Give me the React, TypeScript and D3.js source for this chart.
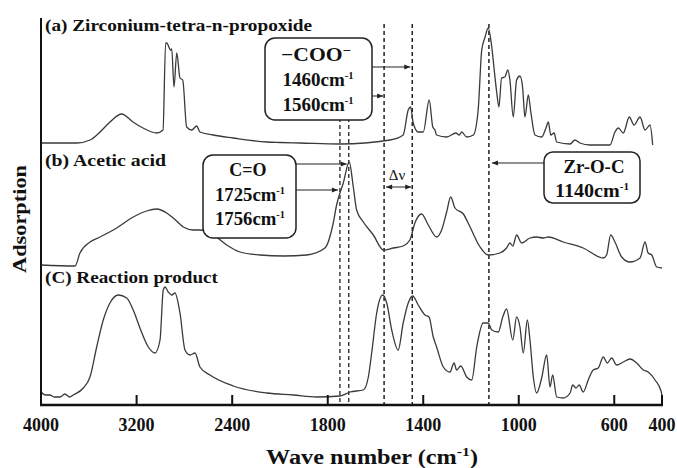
import * as d3 from "d3";

// Wavenumber ticks (cm-1)
const tickValues = [4000, 3200, 2400, 1800, 1400, 1000, 600, 400];

// Spectra: [wavenumber, absorbance above own baseline (arb. units)]
const traceA: [number, number][] = [
  [4000, 0], [3699, 0], [3590, 3], [3506, 11], [3423, 21], [3325, 29], [3230, 21], [3146, 15],
  [3032, 10], [2979, 13], [2957, 100], [2948, 100], [2915, 93], [2906, 94], [2887, 56], [2864, 90],
  [2837, 65], [2814, 63], [2781, 16], [2739, 13], [2697, 17], [2670, 11], [2561, 8], [2393, 5],
  [2111, 1], [2000, 0.5], [1916, 0], [1749, -1], [1539, 3], [1484, 8], [1463, 33], [1453, 36],
  [1442, 20], [1421, 11], [1400, 11], [1375, 43], [1360, 16], [1351, 13], [1344, 8], [1302, 6],
  [1263, 10], [1249, 8], [1239, 11], [1218, 6], [1190, 8], [1170, 33], [1155, 93], [1141, 106],
  [1128, 115], [1113, 96], [1104, 76], [1092, 50], [1083, 36], [1072, 65], [1058, 66], [1046, 73],
  [1037, 63], [1023, 26], [1009, 63], [995, 67], [984, 56], [974, 26], [960, 48], [949, 30],
  [932, 8], [904, 6], [886, 15], [876, 21], [866, 8], [852, 10], [841, 1], [785, -1], [765, 3],
  [744, 0], [702, -2], [618, -2], [597, 11], [583, 15], [562, 10], [537, 26], [517, 18], [492, 26],
  [471, 13], [450, 18], [439, -2],
];

const traceB: [number, number][] = [
  [4000, 0], [3715, -1], [3674, 12], [3590, 23], [3506, 28], [3367, 37], [3228, 48], [3116, 54],
  [3032, 56], [2948, 52], [2893, 47], [2809, 38], [2726, 35], [2670, 35], [2558, 30], [2446, 20],
  [2335, 13], [2167, 10], [1986, 9], [1888, 10], [1812, 17], [1777, 42], [1763, 60], [1735, 82],
  [1710, 103], [1693, 78], [1679, 55], [1651, 43], [1609, 30], [1567, 15], [1525, 17], [1484, 19],
  [1456, 25], [1435, 42], [1407, 51], [1379, 40], [1344, 28], [1323, 35], [1302, 53], [1285, 68],
  [1267, 57], [1232, 51], [1204, 38], [1162, 18], [1128, 10], [1079, 12], [1051, 17], [1037, 22],
  [1025, 19], [1009, 30], [988, 22], [953, 27], [925, 28], [897, 27], [876, 28], [814, 23],
  [730, 17], [646, 7], [632, 10], [615, 30], [597, 23], [569, 8], [534, 3], [492, 7], [471, 23],
  [458, 12], [443, 10], [422, -2], [400, -3],
];

const traceC: [number, number][] = [
  [4000, 3], [3960, 0], [3925, 0], [3890, -2], [3841, -2], [3800, 1], [3760, -2], [3730, 0],
  [3646, 7], [3590, 18], [3534, 48], [3479, 75], [3423, 92], [3353, 100], [3283, 97], [3228, 85],
  [3172, 67], [3102, 48], [3046, 42], [3004, 55], [2977, 105], [2962, 108], [2935, 103], [2906, 100],
  [2879, 102], [2837, 82], [2795, 45], [2753, 40], [2711, 42], [2670, 28], [2586, 20], [2391, 9],
  [2111, 2], [1944, 0], [1846, -2], [1749, -1], [1707, 3], [1651, 5], [1630, 18], [1616, 42],
  [1595, 82], [1570, 100], [1553, 92], [1532, 65], [1505, 45], [1484, 72], [1463, 92], [1444, 99],
  [1421, 90], [1393, 80], [1376, 78], [1358, 58], [1344, 48], [1316, 28], [1288, 23], [1271, 32],
  [1260, 25], [1243, 29], [1218, 18], [1197, 15], [1176, 48], [1149, 72], [1128, 72], [1113, 65],
  [1086, 63], [1067, 78], [1051, 86], [1025, 55], [1009, 78], [995, 68], [981, 42], [964, 75],
  [953, 55], [939, 18], [925, 2], [904, 17], [883, 40], [869, 8], [858, 20], [841, -2], [814, -3],
  [785, 2], [774, 10], [760, 7], [747, 10], [730, 3], [709, 15], [688, 25], [667, 27], [646, 38],
  [629, 32], [611, 37], [590, 30], [562, 33], [534, 36], [506, 32], [478, 25], [458, 23], [429, 15],
  [404, 4], [400, -1],
];

// Baseline of each trace (arb. units above the axis)
const traceOffsets = [262, 140, 10];
const traceNames = ["(a) Zirconium-tetra-n-propoxide", "(b) Acetic acid", "(C) Reaction product"];

// Dashed marker lines as drawn in the figure (cm-1)
const longMarkers = [1564, 1446, 1125];
const shortMarkers = [1749, 1712];

const FONT = "'Liberation Serif', 'Times New Roman', serif";

const x = d3.scaleLinear().domain([4000, 2000, 400]).range([41, 280, 662]);
const y = d3.scaleLinear().domain([0, 387]).range([405, 18]);

function Arrow({ x1, x2, yy, both = false }: { x1: number; x2: number; yy: number; both?: boolean }) {
  const dir = x2 > x1 ? 1 : -1;
  const head = (tx: number, d: number) =>
    `M${tx},${yy} L${tx - d * 6},${yy - 2.5} L${tx - d * 6},${yy + 2.5} Z`;
  return (
    <g>
      <line x1={x1} x2={x2} y1={yy} y2={yy} stroke="#222" strokeWidth={1} />
      <path d={head(x2, dir)} fill="#222" />
      {both && <path d={head(x1, -dir)} fill="#222" />}
    </g>
  );
}

function Wn({ cx, by, v, len }: { cx: number; by: number; v: string; len: number }) {
  return (
    <text x={cx} y={by} textAnchor="middle" fontSize={18} fontWeight="bold" fontFamily={FONT} fill="#111" textLength={len} lengthAdjust="spacingAndGlyphs">
      {v}cm
      <tspan fontSize={10} dy={-7}>-1</tspan>
    </text>
  );
}

export default function App() {
  const traces = [traceA, traceB, traceC];
  const lines = traces.map((t, i) =>
    d3
      .line<[number, number]>()
      .x((d) => x(d[0]))
      .y((d) => y(traceOffsets[i] + d[1]))
      .curve(d3.curveMonotoneX)(t)
  );

  const labelPos = [
    { by: 31, len: 267 },
    { by: 166, len: 121 },
    { by: 283, len: 173 },
  ];

  return (
    <svg
      width={677}
      height={468}
      style={{ position: "absolute", left: 0, top: 0, background: "#fff" }}
    >
      {/* dashed markers */}
      {longMarkers.map((w) => (
        <line key={w} x1={x(w)} x2={x(w)} y1={24} y2={405} stroke="#222" strokeWidth={1.5} strokeDasharray="4,3" />
      ))}
      {shortMarkers.map((w) => (
        <line key={w} x1={x(w)} x2={x(w)} y1={118} y2={405} stroke="#222" strokeWidth={1.3} strokeDasharray="4,3" />
      ))}

      {/* spectra */}
      {lines.map((d, i) => (
        <path key={i} d={d ?? ""} fill="none" stroke="#3a3a3a" strokeWidth={1.3} strokeLinejoin="round" />
      ))}

      {/* axes */}
      <line x1={41} x2={41} y1={18} y2={406} stroke="#111" strokeWidth={2} />
      <line x1={40} x2={663} y1={405} y2={405} stroke="#111" strokeWidth={2.5} />
      {tickValues.map((t) => (
        <g key={t}>
          {t !== 4000 && <line x1={x(t)} x2={x(t)} y1={405} y2={395} stroke="#111" strokeWidth={2} />}
          <text x={x(t)} y={431} textAnchor="middle" fontSize={18} fontWeight="bold" fontFamily={FONT} fill="#111">
            {t}
          </text>
        </g>
      ))}
      <text x={372} y={464} textAnchor="middle" fontSize={20} fontWeight="bold" fontFamily={FONT} fill="#111" textLength={212} lengthAdjust="spacingAndGlyphs">
        Wave number (cm
        <tspan fontSize={13} dy={-8}>-1</tspan>
        <tspan dy={8}>)</tspan>
      </text>
      <text
        transform="translate(26,219) rotate(-90)"
        textAnchor="middle"
        fontSize={19}
        fontWeight="bold"
        fontFamily={FONT}
        fill="#111"
        textLength={108}
        lengthAdjust="spacingAndGlyphs"
      >
        Adsorption
      </text>

      {/* trace labels */}
      {traceNames.map((n, i) => (
        <text key={n} x={45} y={labelPos[i].by} fontSize={17} fontWeight="bold" fontFamily={FONT} fill="#111" textLength={labelPos[i].len} lengthAdjust="spacingAndGlyphs">
          {n}
        </text>
      ))}

      {/* -COO- box */}
      <rect x={265} y={38} width={107} height={82} rx={10} fill="#fff" stroke="#222" strokeWidth={1.5} />
      <text x={316} y={61} textAnchor="middle" fontSize={19} fontWeight="bold" fontFamily={FONT} fill="#111" textLength={70} lengthAdjust="spacingAndGlyphs">
        −COO
        <tspan fontSize={13} dy={-6}>−</tspan>
      </text>
      <Wn cx={318} by={86} v="1460" len={71} />
      <Wn cx={318} by={111} v="1560" len={71} />
      <Arrow x1={372} x2={x(1446) - 2} yy={67} />
      <Arrow x1={372} x2={x(1564) - 1} yy={96} />

      {/* C=O box */}
      <rect x={203} y={155} width={93} height={83} rx={10} fill="#fff" stroke="#222" strokeWidth={1.5} />
      <text x={248} y={176} textAnchor="middle" fontSize={18} fontWeight="bold" fontFamily={FONT} fill="#111">
        C=O
      </text>
      <Wn cx={250} by={201} v="1725" len={70} />
      <Wn cx={250} by={225} v="1756" len={70} />
      <Arrow x1={296} x2={x(1712) - 2} yy={164} />
      <Arrow x1={296} x2={x(1749) - 2} yy={190} />

      {/* delta nu */}
      <text x={397} y={180} textAnchor="middle" fontSize={15} fontFamily={FONT} fill="#111">
        Δν
      </text>
      <Arrow x1={x(1564) + 2} x2={x(1446) - 1} yy={187} both />

      {/* Zr-O-C box */}
      <rect x={544} y={152} width={96} height={51} rx={9} fill="#fff" stroke="#222" strokeWidth={1.5} />
      <text x={594} y={173} textAnchor="middle" fontSize={18} fontWeight="bold" fontFamily={FONT} fill="#111" textLength={61} lengthAdjust="spacingAndGlyphs">
        Zr-O-C
      </text>
      <Wn cx={592} by={197} v="1140" len={74} />
      <Arrow x1={544} x2={x(1125) + 3} yy={163} />
    </svg>
  );
}
